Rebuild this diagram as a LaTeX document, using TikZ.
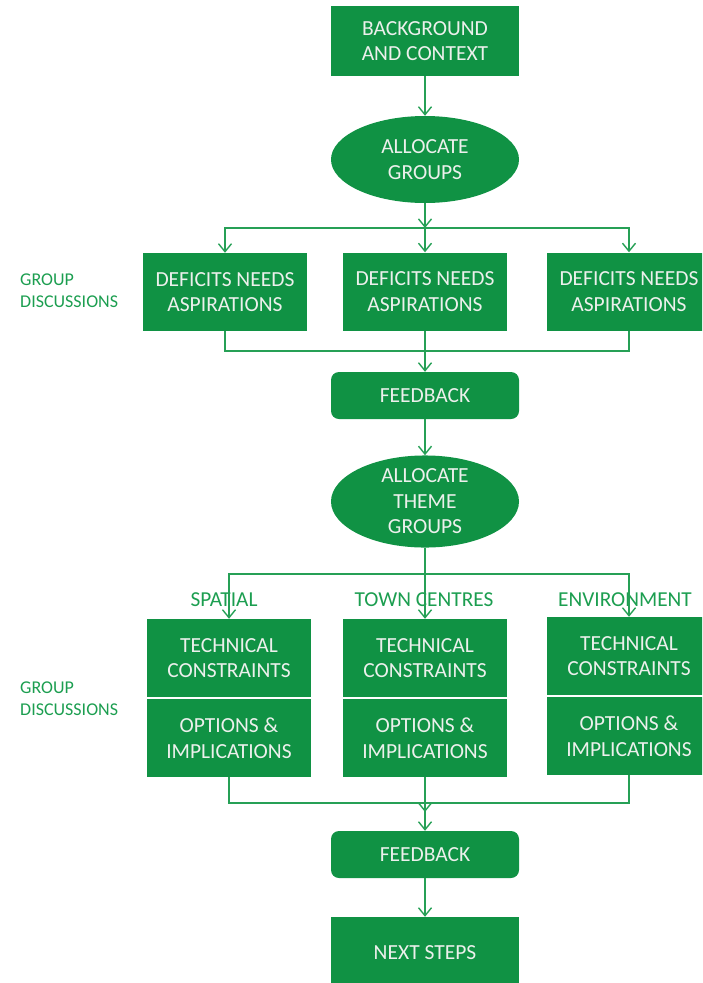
\documentclass[tikz,border=0pt]{standalone}
\usepackage{fontspec}
\setmainfont{Carlito}
\usetikzlibrary{arrows.meta,shapes.geometric}

\definecolor{boxgreen}{RGB}{16,146,68}
\definecolor{linegreen}{RGB}{38,160,86}
\definecolor{labelgreen}{RGB}{28,158,80}
\definecolor{boxtext}{RGB}{236,240,236}

\begin{document}
\begin{tikzpicture}[x=1pt,y=-1pt,
  every node/.style={align=center},
  boxtxt/.style={text=boxtext, font=\fontsize{21.5}{25.5}\selectfont},
  stepbox/.style={boxtxt, fill=boxgreen, minimum width=164pt, minimum height=78pt, inner sep=0pt},
  widebox/.style={boxtxt, fill=boxgreen, minimum width=188pt, inner sep=0pt},
  oval/.style={boxtxt, ellipse, fill=boxgreen, minimum width=188pt, minimum height=87pt, inner sep=0pt},
  theme/.style={text=labelgreen, font=\fontsize{21.3}{24}\selectfont},
  note/.style={text=labelgreen, align=left, anchor=west, inner sep=0pt, font=\fontsize{18}{22}\selectfont},
  link/.style={draw=linegreen, line width=1.4pt},
  flow/.style={link, -{Straight Barb[length=8pt,width=13pt,line width=1.4pt]}}
]
\useasboundingbox (0,0) rectangle (702,983);
\clip (0,0) rectangle (702,983);

% first stage
\node[widebox, minimum height=70pt] (bg) at (425,41) {BACKGROUND\\AND CONTEXT};
\node[oval] (ag) at (425,159.5) {ALLOCATE\\GROUPS};
\node[stepbox] (d1) at (225,292) {DEFICITS NEEDS\\ASPIRATIONS};
\node[stepbox] (d2) at (425,291.5) {DEFICITS NEEDS\\ASPIRATIONS};
\node[stepbox] (d3) at (629,291.5) {DEFICITS NEEDS\\ASPIRATIONS};
\node[note] (gd1) at (20,291) {GROUP\\DISCUSSIONS};
\node[widebox, rounded corners=8pt, minimum height=47pt] (fb1) at (425,395.5) {FEEDBACK};

% second stage
\node[oval] (atg) at (425,501.5) {ALLOCATE\\THEME\\GROUPS};
\node[theme] (lsp) at (224,600) {SPATIAL};
\node[theme] (ltc) at (424,600) {TOWN CENTRES};
\node[theme] (len) at (625,600) {ENVIRONMENT};
\node[stepbox] (t1) at (229,658) {TECHNICAL\\CONSTRAINTS};
\node[stepbox] (o1) at (229,738) {OPTIONS \&\\IMPLICATIONS};
\node[stepbox] (t2) at (425,658) {TECHNICAL\\CONSTRAINTS};
\node[stepbox] (o2) at (425,738) {OPTIONS \&\\IMPLICATIONS};
\node[stepbox] (t3) at (629,656) {TECHNICAL\\CONSTRAINTS};
\node[stepbox] (o3) at (629,736) {OPTIONS \&\\IMPLICATIONS};
\node[note] (gd2) at (20,699) {GROUP\\DISCUSSIONS};
\node[widebox, rounded corners=8pt, minimum height=47pt] (fb2) at (425,854.5) {FEEDBACK};
\node[widebox, minimum height=72pt] (ns) at (425,953) {NEXT STEPS};

% junction points of the buses
\coordinate (bus1) at (425,228);
\coordinate (bus2) at (425,351);
\coordinate (bus3) at (425,574);
\coordinate (bus4) at (425,803);
\coordinate (mid4) at (425,812);

% connectors
\draw[flow] (bg) -- (ag);
\draw[flow] (ag) -- (bus1);
\draw[flow] (bus1) -| (d1);
\draw[flow] (bus1) -- (d2);
\draw[flow] (bus1) -| (d3);
\draw[link] (d1.south) |- (bus2);
\draw[link] (d3.south) |- (bus2);
\draw[flow] (d2) -- (fb1);
\draw[flow] (fb1) -- (atg);
\draw[link] (atg) -- (bus3);
\draw[flow] (bus3) -| (t1);
\draw[flow] (bus3) -- (t2);
\draw[flow] (bus3) -| (t3);
\draw[link] (o1.south) |- (bus4);
\draw[link] (o3.south) |- (bus4);
\draw[flow] (o2) -- (mid4);
\draw[flow] (bus4) -- (fb2);
\draw[flow] (fb2) -- (ns);
\end{tikzpicture}
\end{document}
